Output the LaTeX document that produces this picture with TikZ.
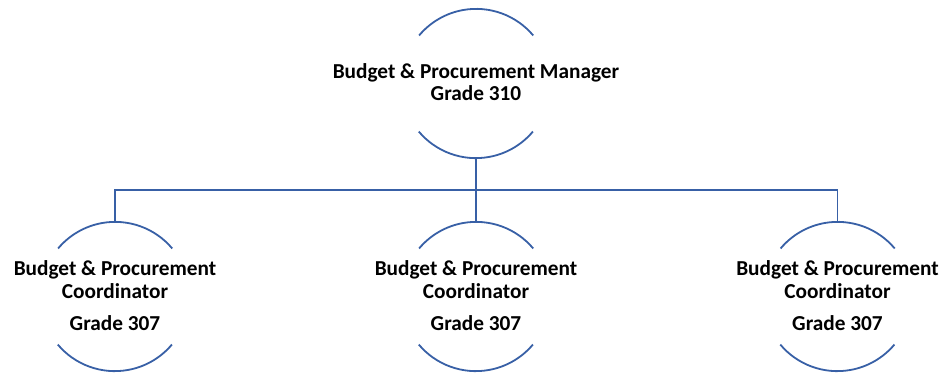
\documentclass[tikz,border=0pt]{standalone}
\usepackage{fontspec}
\setmainfont{Carlito}
\definecolor{lineblue}{RGB}{56,96,166}
\begin{document}
\begin{tikzpicture}[x=1pt,y=-1pt,
  role/.style={circle,minimum size=149pt,inner sep=0pt,draw=none},
  arcline/.style={draw=lineblue,line width=1.8pt},
  conn/.style={draw=lineblue,line width=1.8pt},
  txt/.style={font=\bfseries\fontsize{21.3}{25}\selectfont,align=center,inner sep=0pt}]
\useasboundingbox (0,0) rectangle (942,373);
% role circles (only arcs drawn)
\node[role] (m) at (476,83.5) {};
\node[role] (c1) at (115,296.5) {};
\node[role] (c2) at (476,296.5) {};
\node[role] (c3) at (837.5,296.5) {};
\foreach \n in {m,c1,c2,c3}{
  \draw[arcline] (\n.40) arc[start angle=40,end angle=140,radius=74.5pt];
  \draw[arcline] (\n.220) arc[start angle=220,end angle=320,radius=74.5pt];
}
% texts
\node[txt,anchor=base] at (476,78) {Budget \& Procurement Manager};
\node[txt,anchor=base] at (476,100.5) {Grade 310};
\foreach \n/\x in {t1/115,t2/476,t3/837.5}{
  \node[txt,anchor=base] (\n a) at (\x,275) {Budget \& Procurement};
  \node[txt,anchor=base] (\n b) at (\x,298) {Coordinator};
  \node[txt,anchor=base] (\n c) at (\x,330) {Grade 307};
}
% connectors
\coordinate (bus) at (476,190);
\draw[conn] (m.south) -- (c2.north);
\draw[conn] (bus) -| (c1.north);
\draw[conn] (bus) -| (c3.north);
\end{tikzpicture}
\end{document}
